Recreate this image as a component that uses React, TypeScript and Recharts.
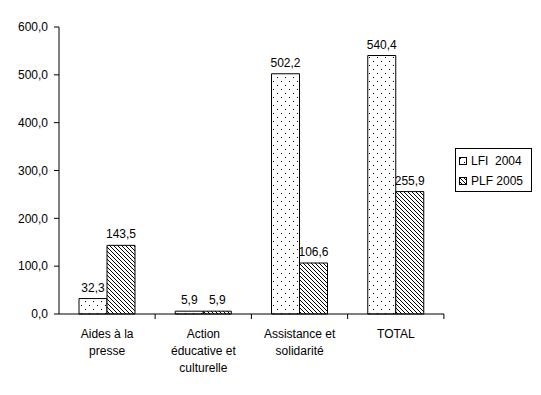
import React from 'react';
import { BarChart, Bar, XAxis, YAxis, LabelList } from 'recharts';

const categories = ['Aides à la presse', 'Action éducative et culturelle', 'Assistance et solidarité', 'TOTAL'];
const lfi2004 = [32.3, 5.9, 502.2, 540.4];
const plf2005 = [143.5, 5.9, 106.6, 255.9];
const xLabelLines = [['Aides à la', 'presse'], ['Action', 'éducative et', 'culturelle'], ['Assistance et', 'solidarité'], ['TOTAL']];
const yTicks = [0, 100, 200, 300, 400, 500, 600];
const seriesNames = ['LFI  2004', 'PLF 2005'];

const data = categories.map((name, i) => ({ name, lfi: lfi2004[i], plf: plf2005[i] }));

const FONT = '"Liberation Sans", Arial, sans-serif';
const fmt = (v: number) => v.toFixed(1).replace('.', ',');

const PLOT_W = 384;
const BAND = PLOT_W / categories.length;

const Patterns = ({ prefix }: { prefix: string }) => (
  <defs>
    <pattern id={`${prefix}-dots`} width="8" height="8" patternUnits="userSpaceOnUse">
      <rect width="8" height="8" fill="#fff" />
      <rect x="1" y="1" width="1" height="1" fill="#000" />
      <rect x="5" y="5" width="1" height="1" fill="#000" />
    </pattern>
    <pattern id={`${prefix}-hatch`} width="4" height="4" patternUnits="userSpaceOnUse">
      <rect width="4" height="4" fill="#fff" />
      <path d="M-1,-1 L5,5 M3,-1 L5,1 M-1,3 L1,5" stroke="#000" strokeWidth="1" />
    </pattern>
  </defs>
);

const XTick = (props: any) => {
  const { x, y, index } = props;
  const lines: string[] = xLabelLines[index] || [];
  return (
    <g>
      <line x1={x + BAND / 2} y1={y - 8} x2={x + BAND / 2} y2={y - 3} stroke="#000" />
      <text x={x} y={y + 16} textAnchor="middle" fontFamily={FONT} fontSize={12} fill="#000">
        {lines.map((l, i) => (
          <tspan key={i} x={x} dy={i === 0 ? 0 : 17}>{l}</tspan>
        ))}
      </text>
    </g>
  );
};

const LegendBox = () => (
  <div
    style={{
      position: 'absolute',
      left: 455,
      top: 148,
      border: '1px solid #000',
      background: '#fff',
      width: 75,
      height: 42,
      boxSizing: 'content-box',
      fontFamily: FONT,
      fontSize: 12,
      color: '#000',
    }}
  >
    {seriesNames.map((label, i) => (
      <div key={i} style={{ display: 'flex', alignItems: 'center', height: 20, paddingLeft: 3, marginTop: i === 0 ? 2 : 0 }}>
        <svg width={9} height={9} style={{ marginRight: 3 }}>
          <Patterns prefix={`lg${i}`} />
          <rect x={0.5} y={0.5} width={7} height={7} fill={`url(#lg${i}-${i === 0 ? 'dots' : 'hatch'})`} stroke="#000" />
        </svg>
        <span style={{ whiteSpace: 'pre' }}>{label}</span>
      </div>
    ))}
  </div>
);

export default function App() {
  return (
    <div style={{ position: 'absolute', left: 0, top: 0, width: 541, height: 395, background: '#fff' }}>
      <BarChart
        width={541}
        height={395}
        data={data}
        margin={{ top: 27, right: 97, left: 0, bottom: 0 }}
        barCategoryGap={20}
        barGap={0}
      >
        <Patterns prefix="ch" />
        <XAxis
          dataKey="name"
          height={81}
          axisLine={{ stroke: '#000' }}
          tickLine={false}
          tick={<XTick />}
          interval={0}
        />
        <YAxis
          width={59}
          domain={[0, 600]}
          ticks={yTicks}
          tickFormatter={fmt}
          axisLine={{ stroke: '#000' }}
          tickLine={{ stroke: '#000' }}
          tickSize={5}
          tickMargin={6}
          tick={{ fontFamily: FONT, fontSize: 12, fill: '#000' }}
          interval={0}
        />
        <Bar dataKey="lfi" name={seriesNames[0]} fill="url(#ch-dots)" stroke="#000" strokeWidth={1} isAnimationActive={false}>
          <LabelList dataKey="lfi" position="top" formatter={(v: any) => fmt(Number(v))} style={{ fontFamily: FONT, fontSize: 12, fill: '#000' }} offset={7} />
        </Bar>
        <Bar dataKey="plf" name={seriesNames[1]} fill="url(#ch-hatch)" stroke="#000" strokeWidth={1} isAnimationActive={false}>
          <LabelList dataKey="plf" position="top" formatter={(v: any) => fmt(Number(v))} style={{ fontFamily: FONT, fontSize: 12, fill: '#000' }} offset={7} />
        </Bar>
      </BarChart>
      <LegendBox />
    </div>
  );
}
